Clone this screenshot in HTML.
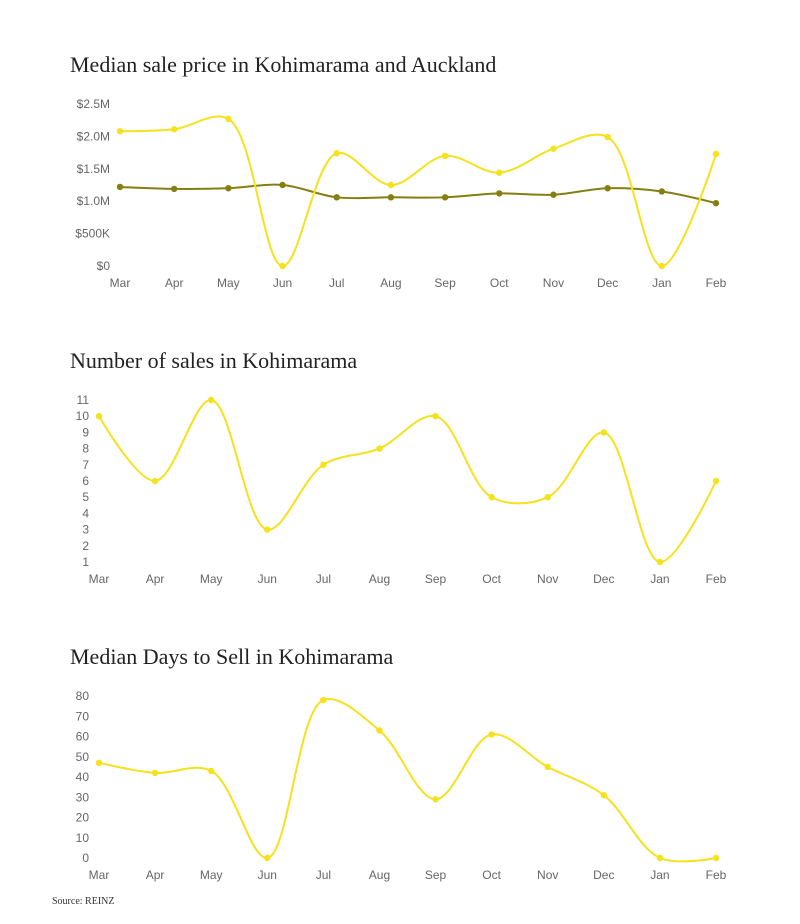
<!DOCTYPE html>
<html><head><meta charset="utf-8"><style>
body{margin:0;background:#fff;width:800px;height:924px;overflow:hidden}
svg{display:block}
.title{font-family:"Liberation Serif",serif;font-size:22px;fill:#222}
.tick{font-family:"Liberation Sans",sans-serif;font-size:12px;fill:#666}
</style></head><body>
<svg id="svg" width="800" height="924">
<text class="title" x="70" y="72">Median sale price in Kohimarama and Auckland</text>
<text class="title" x="70" y="368">Number of sales in Kohimarama</text>
<text class="title" x="70" y="664">Median Days to Sell in Kohimarama</text>
<text x="52" y="904" style="font-family:'Liberation Serif',serif;font-size:10px;fill:#333">Source: REINZ</text>
</svg>
<script>
const months=["Mar","Apr","May","Jun","Jul","Aug","Sep","Oct","Nov","Dec","Jan","Feb"];
const priceKohi=[2.08,2.11,2.27,0,1.74,1.25,1.70,1.44,1.81,1.99,0,1.73];
const priceAuck=[1.22,1.19,1.20,1.25,1.06,1.06,1.06,1.12,1.10,1.20,1.15,0.97];
const priceTicks=[0,0.5,1,1.5,2,2.5];
const priceTickLabels=["$0","$500K","$1.0M","$1.5M","$2.0M","$2.5M"];
const salesCounts=[10,6,11,3,7,8,10,5,5,9,1,6];
const salesTicks=[1,2,3,4,5,6,7,8,9,10,11];
const daysToSell=[47,42,43,0,78,63,29,61,45,31,0,0];
const daysTicks=[0,10,20,30,40,50,60,70,80];
const YEL="#f5e11c",OLV="#857f12";
const svg=document.getElementById('svg');
const NS="http://www.w3.org/2000/svg";
function mk(t,a){const e=document.createElementNS(NS,t);for(const k in a)e.setAttribute(k,a[k]);svg.appendChild(e);return e;}
function curve(p){
  const A=0.5,n=p.length;let d="M"+p[0];
  const dist=(a,b)=>Math.hypot(a[0]-b[0],a[1]-b[1]);
  for(let i=0;i<n-1;i++){
    const p0=p[i-1]||p[i],p1=p[i],p2=p[i+1],p3=p[i+2]||p[i+1];
    const l01=Math.pow(dist(p0,p1),A),l12=Math.pow(dist(p1,p2),A),l23=Math.pow(dist(p2,p3),A);
    const l01_2=l01*l01,l12_2=l12*l12,l23_2=l23*l23;
    let c1=[p1[0],p1[1]],c2=[p2[0],p2[1]];
    if(l01>1e-6){const a=2*l01_2+3*l01*l12+l12_2,m=3*l01*(l01+l12);
      c1=[(p1[0]*a-p0[0]*l12_2+p2[0]*l01_2)/m,(p1[1]*a-p0[1]*l12_2+p2[1]*l01_2)/m];}
    if(l23>1e-6){const b=2*l23_2+3*l23*l12+l12_2,m=3*l23*(l23+l12);
      c2=[(p2[0]*b+p1[0]*l23_2-p3[0]*l12_2)/m,(p2[1]*b+p1[1]*l23_2-p3[1]*l12_2)/m];}
    d+="C"+c1+" "+c2+" "+p2;
  }
  return d;
}
function chart(name,x0,x1,yb,yt,vmin,vmax,ticks,labels,labelX,xLabY,series){
  const xs=i=>x0+(x1-x0)*i/(months.length-1);
  const ys=v=>yb-(v-vmin)/(vmax-vmin)*(yb-yt);
  ticks.forEach((t,i)=>{const e=mk('text',{class:'tick',x:labelX,y:ys(t)+4,'text-anchor':'end'});e.textContent=labels?labels[i]:t;
    
    });
  months.forEach((m,i)=>{const e=mk('text',{class:'tick',x:xs(i),y:xLabY,'text-anchor':'middle'});e.textContent=m;
    
    });
  series.forEach(s=>{const pts=s.vals.map((v,i)=>[xs(i),ys(v)]);
    const p=mk('path',{d:curve(pts),fill:'none',stroke:s.c,'stroke-width':2});
    
    
    pts.forEach(q=>{const c=mk('circle',{cx:q[0],cy:q[1],r:3.2,fill:s.c});
      
      });});
}
chart('price',120,716,266,104,0,2.5,priceTicks,priceTickLabels,110,287,[{n:'auckland',c:OLV,vals:priceAuck},{n:'kohimarama',c:YEL,vals:priceKohi}]);
chart('sales',99,716,562,400,1,11,salesTicks,null,89,583,[{n:'kohimarama',c:YEL,vals:salesCounts}]);
chart('days',99,716,858,696,0,80,daysTicks,null,89,879,[{n:'kohimarama',c:YEL,vals:daysToSell}]);
</script>
</body></html>
